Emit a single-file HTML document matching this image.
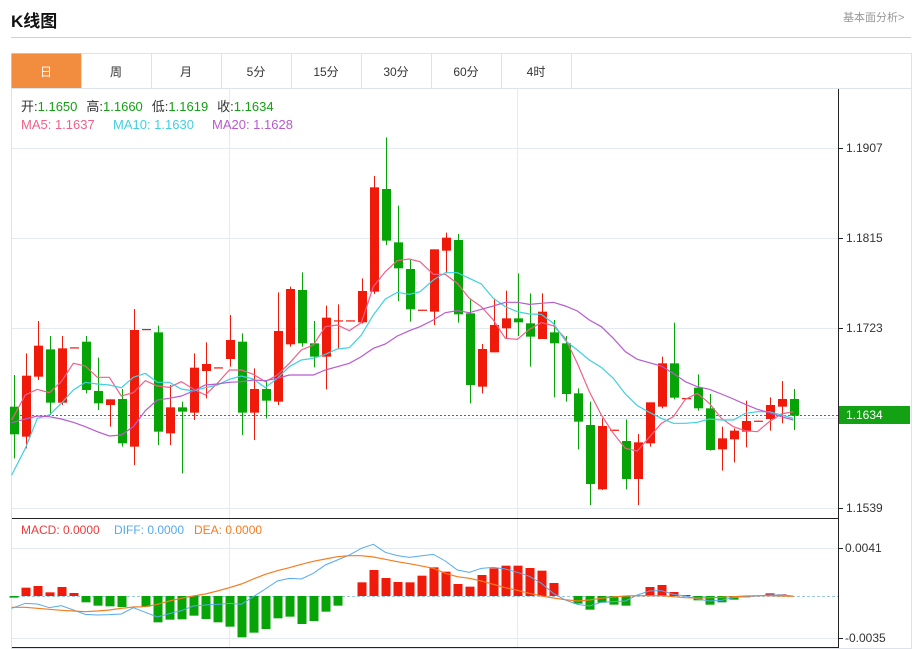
<!DOCTYPE html>
<html><head><meta charset="utf-8"><style>
body{margin:0;background:#fff;font-family:"Liberation Sans","Noto Sans CJK SC",sans-serif;}
#w{position:relative;width:919px;height:649px;overflow:hidden;}
.t{position:absolute;white-space:nowrap;}
</style></head><body><div id="w">
<div class="t" style="left:11px;top:7px;font-size:17px;font-weight:bold;color:#111;">K线图</div>
<div class="t" style="left:843px;top:9px;font-size:11px;color:#999;">基本面分析&gt;</div>
<div style="position:absolute;left:11px;top:37px;width:900px;height:1px;background:#d0d0d0"></div>
<svg id="s" width="919" height="649" style="position:absolute;left:0;top:0" font-family="Liberation Sans, Noto Sans CJK SC, sans-serif"></svg>
</div>
<script>
var S=document.getElementById('s'),h='';
function R(x,y,w,hh,f,st){h+='<rect x="'+x+'" y="'+y+'" width="'+w+'" height="'+hh+'" fill="'+f+'"'+(st?' stroke="'+st+'"':'')+'/>';}
function L(x1,y1,x2,y2,c,extra){h+='<line x1="'+x1+'" y1="'+y1+'" x2="'+x2+'" y2="'+y2+'" stroke="'+c+'" '+(extra||'')+'/>';}
function T(x,y,s,c,sz,anc){h+='<text x="'+x+'" y="'+y+'" fill="'+c+'" font-size="'+(sz||12)+'"'+(anc?' text-anchor="'+anc+'"':'')+'>'+s+'</text>';}
// frame
R(11.5,53.5,900,595,'none','#dde3ea');
var tabs=['日','周','月','5分','15分','30分','60分','4时'];
for(var i=0;i<8;i++){var x=11+i*70; if(i==0)R(x+0.5,53.5,70,35,'#f28c3f'); else L(x+0.5,54,x+0.5,88,'#dde3ea');
T(x+35,76,tabs[i],i==0?'#fff':'#333',12,'middle');}
L(571.5,54,571.5,88,'#dde3ea');L(11,88.5,912,88.5,'#dde3ea');
// grid
[148,238,328,418,508].forEach(function(y){L(12,y+.5,838,y+.5,'#e3eaf1');});
[229,517].forEach(function(x){L(x+.5,89,x+.5,648,'#e3eaf1');});
L(12,548.5,838,548.5,'#e3eaf1');L(12,638.5,838,638.5,'#e3eaf1');
L(838.5,89,838.5,648,'#222');L(12,518.5,838,518.5,'#222');L(12,647.5,838,647.5,'#222');
// axis labels
[['1.1907',148],['1.1815',238],['1.1723',328],['1.1539',508]].forEach(function(a){L(839,a[1]+.5,843,a[1]+.5,'#222');T(846,a[1]+4,a[0],'#333',12);});
[['0.0041',548],['-0.0035',638]].forEach(function(a){L(839,a[1]+.5,843,a[1]+.5,'#222');T(845,a[1]+4,a[0],'#333',12);});
L(12,415.5,838,415.5,'#1a9a1a','stroke-dasharray="2,2"');
R(839,406,71,18,'#13a213');T(846,419,'1.1634','#fff',12);
// candles [color, bodyTop, bodyBot, wickTop, wickBot] in zoom coords
var C1=[['g',950,1033,855,1105],['r',857,1040,790,1075],['r',767,860,693,870],['g',778,938,738,975],['r',775,938,738,945],['r',772,775,772,775],['g',755,900,738,910],['g',903,940,803,960],['r',928,945,928,1010],['g',927,1060,897,1070],['r',720,1070,657,1125],['r',717,720,717,720],['g',727,1025,707,1065],['r',952,1030,885,1065],['g',952,965,935,1150],['r',833,968,790,990],['r',822,843,757,925],['r',832,835,832,835],['r',750,807,675,830],['g',755,968,730,1035],['r',897,968,835,1050],['g',897,932,870,985],['r',723,935,607,945],['r',597,763,590,770],['g',600,760,547,770],['g',760,800,693,832],['r',683,800,647,898],['r',691,694,643,775],['r',691,694,691,694],['r',603,697,565,700],['r',292,605,258,612],['g',297,452,142,465],['g',457,535,347,633],['g',537,658,510,695],['r',659,662,659,662],
['r',478,665,478,705],['r',443,482,428,550],['g',450,673,432,698],['g',670,885,625,940],['r',777,890,762,910],['r',705,787,625,787],['r',685,715,602,745],['g',685,697,550,738],['g',700,740,610,830],['r',665,747,610,747],['g',727,760,690,922],['g',760,912,738,935],['g',910,995,895,1078],['g',1005,1182,935,1245],['r',1008,1198,985,1200],['r',1019,1022,1019,1022],['g',1053,1167,988,1198],['r',1057,1167,1032,1245],['r',937,1060,937,1070],['r',820,950,800,955],['g',820,923,698,928],['r',924,927,924,927],['g',893,955,853,962],['g',955,1080,912,1082],['r',1045,1078,1010,1142],['r',1022,1048,1015,1117],['r',993,1025,932,1072],['r',992,995,992,995],['r',945,987,922,1022],['r',927,950,873,1000],['g',927,977,897,1020]];
var RED='#f01a0a',GRN='#06a406';
C1.forEach(function(c,i){var x=14+12*i,col=c[0]=='r'?RED:GRN,y=function(z){return 90+z/3;};
L(x+.5,y(c[3]),x+.5,y(c[4]),col);var bt=y(c[1]),bb=y(c[2]);R(x-4,bt,9,Math.max(1.2,bb-bt),col);});
function PL(a,b,col,base,w){var p=[];a.forEach(function(q){p.push((q[0]/3)+','+(base+q[1]/3));});b.forEach(function(q){p.push((420+q[0]/3)+','+(base+q[1]/3));});
h+='<polyline points="'+p.join(' ')+'" fill="none" stroke="'+col+'" stroke-width="'+(w||1.2)+'"/>';}
PL([[35,990],[76,915],[112,898],[148,908],[184,875],[220,820],[256,828],[292,862],[328,862],[364,918],[400,908],[436,872],[472,888],[508,892],[544,875],[580,897],[616,915],[652,880],[688,840],[724,840],[760,853],[796,875],[832,855],[868,820],[904,780],[940,765],[976,710],[1012,705],[1048,722],[1084,698],[1120,590],[1156,545],[1192,512],[1228,507],[1260,515]],
[[40,553],[76,553],[112,580],[148,625],[184,650],[220,690],[256,745],[292,748],[328,718],[364,698],[400,707],[436,745],[472,820],[508,905],[544,975],[580,1030],[616,1075],[652,1083],[688,1042],[724,1000],[760,980],[796,928],[832,910],[868,940],[904,985],[940,1010],[976,1022],[1012,1025],[1048,995],[1084,972],[1120,965]],'#f0608a',90);
PL([[35,1155],[76,1075],[112,985],[148,975],[184,940],[220,900],[256,877],[292,882],[328,885],[364,893],[400,862],[436,850],[472,877],[508,877],[544,897],[580,903],[616,893],[652,885],[688,868],[724,858],[760,867],[796,893],[832,865],[868,830],[904,810],[940,805],[976,793],[1012,777],[1048,773],[1084,735],[1120,675],[1156,627],[1192,607],[1228,613],[1260,605]],
[[40,570],[76,548],[112,548],[148,565],[184,582],[220,625],[256,650],[292,665],[328,672],[364,673],[400,700],[436,752],[472,780],[508,810],[544,832],[580,865],[616,912],[652,947],[688,967],[724,985],[760,1000],[796,1000],[832,997],[868,987],[904,990],[940,990],[976,970],[1012,965],[1048,965],[1084,975],[1120,985]],'#40cfe0',90);
PL([[35,998],[76,987],[112,978],[148,980],[184,987],[220,997],[256,1010],[292,1025],[328,1038],[364,1035],[400,1010],[436,962],[472,930],[508,925],[544,918],[580,903],[616,885],[652,882],[688,877],[724,875],[760,870],[796,872],[832,865],[868,855],[904,855],[940,855],[976,840],[1012,830],[1048,820],[1084,800],[1120,775],[1156,762],[1192,738],[1228,722],[1260,710]],
[[40,690],[76,668],[112,662],[148,668],[184,658],[220,648],[256,637],[292,637],[328,643],[364,640],[400,637],[436,648],[472,663],[508,690],[544,710],[580,745],[616,785],[652,808],[688,818],[724,828],[760,850],[796,875],[832,890],[868,898],[904,912],[940,927],[976,943],[1012,958],[1048,968],[1084,980],[1120,990]],'#b85ad0',90);
// MACD
L(12,596.5,838,596.5,'#9cc8e8','stroke-dasharray="3,2"');
var M=[248,218,213,232,216,234,262,272,274,276,243,275,322,314,313,302,312,322,335,367,353,342,310,305,327,318,290,272,243,202,165,189,201,202,182,157,170,207,215,180,160,152,152,159,167,204,241,266,284,263,269,272,243,216,210,231,240,256,269,262,254,247,243,235,238,243];
M.forEach(function(z,i){var x=14+12*i,y=515+z/3,z0=596;if(Math.abs(y-z0)<1)return;R(x-4.5,Math.min(y,z0),9,Math.abs(y-z0),y<z0?RED:GRN);});
PL([[35,280],[76,265],[112,267],[148,278],[184,272],[220,285],[256,298],[292,300],[328,299],[364,297],[400,278],[436,292],[472,306],[508,296],[544,287],[580,273],[616,270],[652,268],[688,265],[724,268],[760,245],[796,222],[832,198],[868,190],[904,192],[940,175],[976,150],[1012,135],[1048,120],[1084,100],[1120,88],[1156,112],[1192,122],[1228,127],[1260,123]],
[[40,118],[76,138],[112,165],[148,172],[184,160],[220,157],[256,162],[292,172],[328,184],[364,205],[400,235],[436,255],[472,268],[508,273],[544,262],[580,260],[616,258],[652,240],[688,228],[724,227],[760,238],[796,243],[832,252],[868,258],[904,256],[940,248],[976,245],[1012,243],[1048,240],[1084,240],[1120,243]],'#55aaee',515,1);
PL([[35,277],[76,277],[112,280],[148,283],[184,286],[220,288],[256,290],[292,288],[328,285],[364,280],[400,276],[436,275],[472,268],[508,258],[544,250],[580,243],[616,237],[652,228],[688,218],[724,207],[760,192],[796,178],[832,167],[868,158],[904,148],[940,139],[976,132],[1012,125],[1048,122],[1084,122],[1120,126],[1156,133],[1192,140],[1228,146],[1260,152]],
[[40,160],[76,175],[112,185],[148,190],[184,198],[220,208],[256,218],[292,226],[328,235],[364,243],[400,249],[436,254],[472,258],[508,255],[544,250],[580,246],[616,243],[652,242],[688,242],[724,242],[760,245],[796,248],[832,249],[868,248],[904,247],[940,245],[976,243],[1012,242],[1048,242],[1084,243],[1120,244]],'#f57c20',515,1.2);
// legends
h+='<text x="21" y="111" font-size="13"><tspan fill="#333">开:</tspan><tspan fill="#13a013">1.1650</tspan><tspan fill="#333" dx="9">高:</tspan><tspan fill="#13a013">1.1660</tspan><tspan fill="#333" dx="9">低:</tspan><tspan fill="#13a013">1.1619</tspan><tspan fill="#333" dx="9">收:</tspan><tspan fill="#13a013">1.1634</tspan></text>';
T(21,129,'MA5: 1.1637','#f0608a',13);T(113,129,'MA10: 1.1630','#40cfe0',13);T(212,129,'MA20: 1.1628','#b85ad0',13);
T(21,534,'MACD: 0.0000','#f03a3a',12);T(114,534,'DIFF: 0.0000','#55aaee',12);T(194,534,'DEA: 0.0000','#f57c20',12);
S.innerHTML=h;
</script></body></html>
